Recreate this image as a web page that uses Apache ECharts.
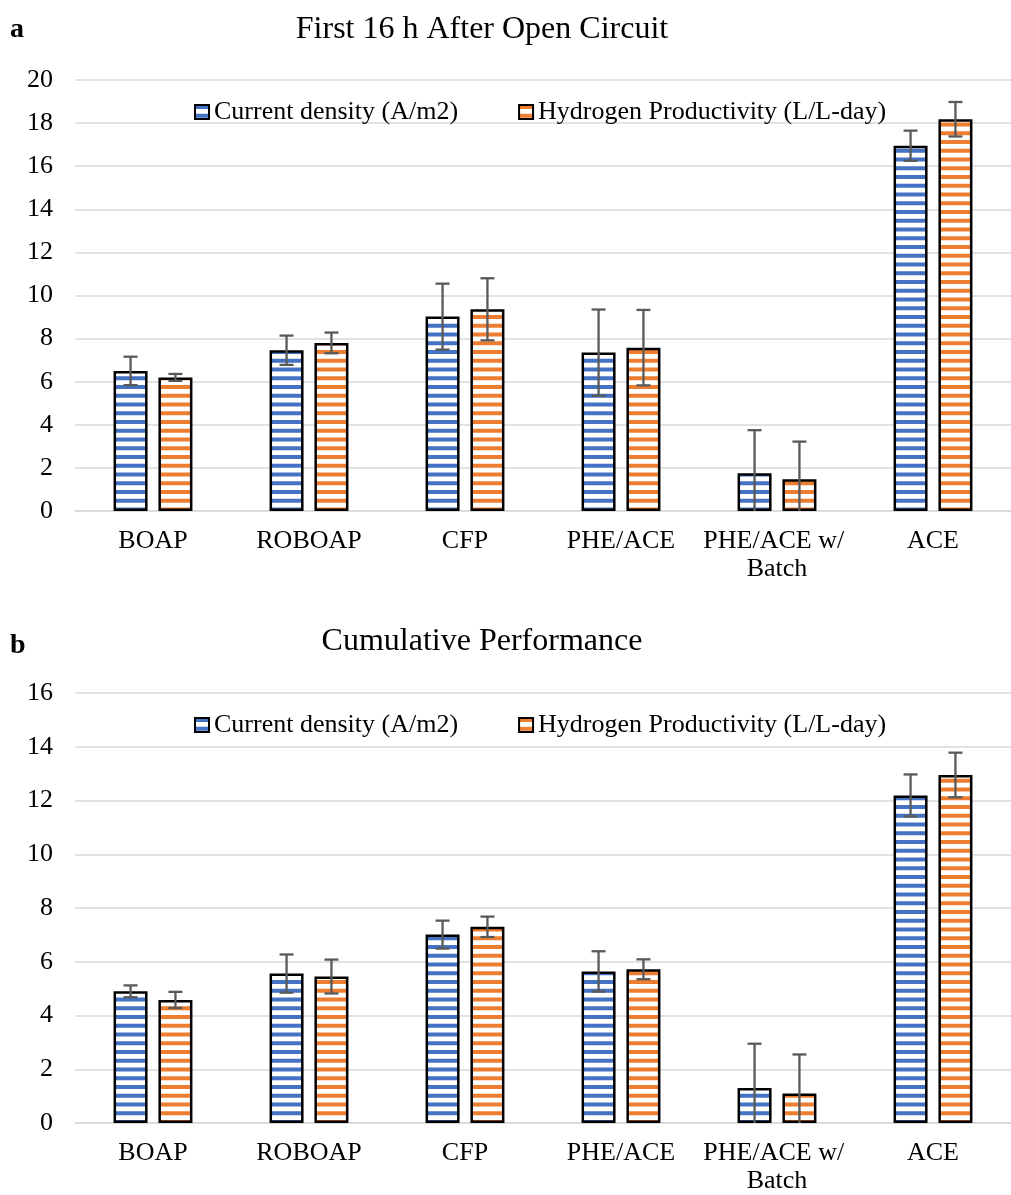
<!DOCTYPE html>
<html>
<head>
<meta charset="utf-8">
<script src="https://cdn.jsdelivr.net/npm/echarts@6/dist/echarts.min.js"></script>
<style>
  html, body { margin: 0; padding: 0; background: #fff; }
  #chart { width: 1011px; height: 1195px; }
</style>
</head>
<body>
<div id="chart"></div>
<script>
// Reactor categories shared by both panels
const categories = ['BOAP', 'ROBOAP', 'CFP', 'PHE/ACE', 'PHE/ACE w/ Batch', 'ACE'];
const seriesNames = ['Current density (A/m2)', 'Hydrogen Productivity (L/L-day)'];

// Panel a: first 16 h after open circuit (mean and standard deviation)
const firstCurrent     = [6.50, 7.46, 9.02, 7.35, 1.75, 16.95];
const firstCurrentErr  = [0.66, 0.68, 1.53, 2.00, 2.00, 0.70];
const firstHydrogen    = [6.20, 7.80, 9.36, 7.58, 1.47, 18.18];
const firstHydrogenErr = [0.16, 0.48, 1.44, 1.75, 1.75, 0.80];

// Panel b: cumulative performance
const cumCurrent     = [4.90, 5.56, 7.01, 5.64, 1.30, 12.19];
const cumCurrentErr  = [0.22, 0.71, 0.52, 0.75, 1.65, 0.78];
const cumHydrogen    = [4.58, 5.45, 7.30, 5.72, 1.10, 12.95];
const cumHydrogenErr = [0.30, 0.63, 0.38, 0.37, 1.45, 0.83];

// Value axis ranges
const axisA = { min: 0, max: 20, interval: 2 };
const axisB = { min: 0, max: 16, interval: 2 };

const BLUE = '#4472C4';
const ORANGE = '#ED7D31';
const SERIF = '"Liberation Serif", "Times New Roman", serif';
const BAR_W = 34;
const BAR_GAP = 0.32;
const HALF_STEP = BAR_W * (1 + BAR_GAP) / 2;

// Horizontal stripe fill: coloured band, white band
function stripes(color) {
  const c = document.createElement('canvas');
  c.width = 8; c.height = 35;
  const g = c.getContext('2d');
  g.fillStyle = '#ffffff';
  g.fillRect(0, 0, 8, 35);
  g.fillStyle = color;
  for (let k = 0; k < 4; k++) g.fillRect(0, k * 8.75, 8, 4);
  return { image: c, repeat: 'repeat' };
}

function barSeries(name, idx, values, color) {
  return {
    name: name,
    type: 'bar',
    xAxisIndex: idx,
    yAxisIndex: idx,
    data: values,
    barWidth: BAR_W,
    barGap: (BAR_GAP * 100) + '%',
    itemStyle: { color: stripes(color), borderColor: '#000', borderWidth: 2.5 },
    emphasis: { disabled: true },
    z: 2
  };
}

function errorSeries(idx, values, errs, offset) {
  return {
    type: 'custom',
    xAxisIndex: idx,
    yAxisIndex: idx,
    clip: true,
    silent: true,
    z: 5,
    encode: { x: 0, y: [1, 2] },
    data: values.map((v, i) => [i, v - errs[i], v + errs[i]]),
    renderItem: function (params, api) {
      const lo = api.coord([api.value(0), api.value(1)]);
      const hi = api.coord([api.value(0), api.value(2)]);
      const x = lo[0] + offset;
      const style = { stroke: '#595959', lineWidth: 2.3 };
      return {
        type: 'group',
        children: [
          { type: 'line', shape: { x1: x, y1: hi[1], x2: x, y2: lo[1] }, style: style },
          { type: 'line', shape: { x1: x - 7, y1: hi[1], x2: x + 7, y2: hi[1] }, style: style },
          { type: 'line', shape: { x1: x - 7, y1: lo[1], x2: x + 7, y2: lo[1] }, style: style }
        ]
      };
    }
  };
}

function xAxis(idx) {
  return {
    type: 'category',
    gridIndex: idx,
    data: categories,
    axisTick: { show: false },
    axisLine: { lineStyle: { color: '#d9d9d9', width: 1.5 } },
    axisLabel: {
      interval: 0,
      color: '#000',
      fontFamily: SERIF,
      fontSize: 26,
      lineHeight: 28,
      margin: 16,
      width: 150,
      overflow: 'break'
    }
  };
}

function yAxis(idx, range) {
  return {
    type: 'value',
    gridIndex: idx,
    min: range.min,
    max: range.max,
    interval: range.interval,
    axisLine: { show: false },
    axisTick: { show: false },
    splitLine: { lineStyle: { color: '#d9d9d9', width: 1.5 } },
    axisLabel: { color: '#000', fontFamily: SERIF, fontSize: 26, margin: 22 }
  };
}

function legend(top) {
  return {
    data: seriesNames,
    left: 194,
    top: top,
    padding: 0,
    itemWidth: 14,
    itemHeight: 14,
    itemGap: 60,
    selectedMode: false,
    icon: 'rect',
    itemStyle: { borderColor: '#000', borderWidth: 2 },
    textStyle: { color: '#000', fontFamily: SERIF, fontSize: 26, lineHeight: 26 }
  };
}

const chart = echarts.init(document.getElementById('chart'), null, { renderer: 'canvas' });

chart.setOption({
  animation: false,
  backgroundColor: '#ffffff',
  title: [
    { text: 'a', left: 10, top: 16, padding: 0,
      textStyle: { fontFamily: SERIF, fontSize: 28, fontWeight: 'bold', color: '#000', lineHeight: 28 } },
    { text: 'First 16 h After Open Circuit', left: 482, textAlign: 'center', top: 14, padding: 0,
      textStyle: { fontFamily: SERIF, fontSize: 32, fontWeight: 'normal', color: '#000', lineHeight: 32 } },
    { text: 'b', left: 10, top: 632, padding: 0,
      textStyle: { fontFamily: SERIF, fontSize: 28, fontWeight: 'bold', color: '#000', lineHeight: 28 } },
    { text: 'Cumulative Performance', left: 482, textAlign: 'center', top: 626, padding: 0,
      textStyle: { fontFamily: SERIF, fontSize: 32, fontWeight: 'normal', color: '#000', lineHeight: 32 } }
  ],
  legend: [legend(99), legend(712)],
  grid: [
    { left: 75, right: -12, top: 80, height: 431, containLabel: false },
    { left: 75, right: -12, top: 693, height: 430, containLabel: false }
  ],
  xAxis: [xAxis(0), xAxis(1)],
  yAxis: [yAxis(0, axisA), yAxis(1, axisB)],
  series: [
    barSeries(seriesNames[0], 0, firstCurrent, BLUE),
    barSeries(seriesNames[1], 0, firstHydrogen, ORANGE),
    errorSeries(0, firstCurrent, firstCurrentErr, -HALF_STEP),
    errorSeries(0, firstHydrogen, firstHydrogenErr, HALF_STEP),
    barSeries(seriesNames[0], 1, cumCurrent, BLUE),
    barSeries(seriesNames[1], 1, cumHydrogen, ORANGE),
    errorSeries(1, cumCurrent, cumCurrentErr, -HALF_STEP),
    errorSeries(1, cumHydrogen, cumHydrogenErr, HALF_STEP)
  ]
});
</script>
</body>
</html>
